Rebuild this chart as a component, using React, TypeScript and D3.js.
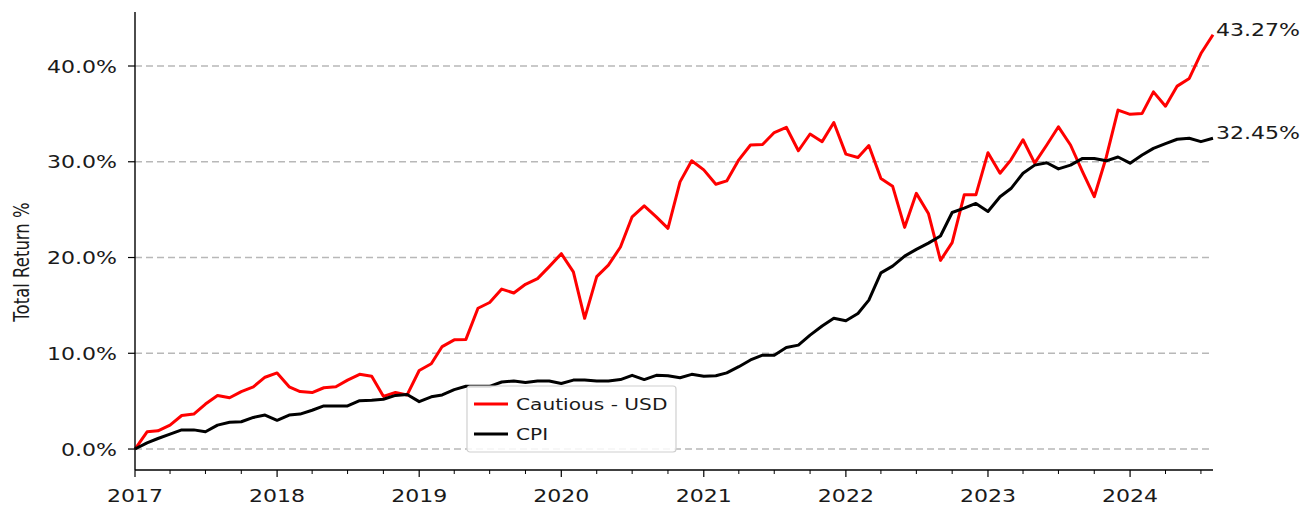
import * as d3 from "d3";
import { useEffect, useRef } from "react";

// monthly points, Jan 2017 .. Aug 2024
const dates = d3.timeMonth.range(new Date(2017, 0, 1), new Date(2024, 7, 2));

const cautious = [
  0, 1.8, 1.9, 2.5, 3.5, 3.65, 4.7, 5.6, 5.35, 6.0, 6.5, 7.5,
  7.95, 6.5, 6.0, 5.9, 6.4, 6.5, 7.2, 7.8, 7.6, 5.5, 5.9, 5.65,
  8.2, 8.9, 10.7, 11.4, 11.45, 14.7, 15.3, 16.7, 16.3, 17.2, 17.8, 19.05,
  20.4, 18.5, 13.65, 18.0, 19.2, 21.1, 24.25, 25.4, 24.25, 23.05, 27.9, 30.1,
  29.15, 27.65, 28.0, 30.2, 31.75, 31.8, 33.05, 33.6, 31.15, 32.9, 32.1, 34.1,
  30.8, 30.45, 31.7, 28.25, 27.45, 23.15, 26.7, 24.6, 19.7, 21.55, 26.55, 26.55,
  30.95, 28.8, 30.2, 32.3, 29.85, 31.75, 33.65, 31.75, 28.95, 26.35, 30.5, 35.4,
  34.95, 35.05, 37.3, 35.8, 37.9, 38.7, 41.3, 43.27,
];

const cpi = [
  0, 0.65, 1.1, 1.55, 2.0, 2.0, 1.8, 2.5, 2.8, 2.85, 3.3, 3.55,
  3.0, 3.55, 3.65, 4.05, 4.5, 4.5, 4.5, 5.05, 5.1, 5.2, 5.6, 5.7,
  4.95, 5.45, 5.65, 6.2, 6.55, 6.55, 6.55, 7.0, 7.1, 6.95, 7.1, 7.1,
  6.85, 7.2, 7.2, 7.1, 7.1, 7.25, 7.7, 7.25, 7.7, 7.65, 7.45, 7.8,
  7.6, 7.65, 7.95, 8.6, 9.3, 9.8, 9.8, 10.6, 10.85, 11.9, 12.85, 13.65,
  13.4, 14.15, 15.55, 18.4, 19.1, 20.15, 20.85, 21.5, 22.25, 24.7, 25.15, 25.65,
  24.8, 26.35, 27.2, 28.8, 29.65, 29.9, 29.25, 29.65, 30.35, 30.35, 30.1, 30.5,
  29.85, 30.7, 31.4, 31.9, 32.35, 32.45, 32.1, 32.45,
];

const yTicks = [0, 10, 20, 30, 40];

const series = [
  { name: "Cautious - USD", values: cautious, color: "#ff0000" },
  { name: "CPI", values: cpi, color: "#000000" },
];

const SX = 1.26; // the picture is stretched sideways
const FONT = "'DejaVu Sans', sans-serif";
const INK = "#1a1a1a";

export default function App() {
  const ref = useRef<SVGSVGElement>(null);

  useEffect(() => {
    const svg = d3.select(ref.current);
    svg.selectAll("*").remove();

    const width = 1310;
    const height = 509;
    const left = 135, right = 1213, top = 12, bottom = 470;

    svg.attr("width", width).attr("height", height)
      .style("font-family", FONT);

    const x = d3.scaleTime()
      .domain([dates[0], dates[dates.length - 1]])
      .range([left, right]);

    const y = d3.scaleLinear()
      .domain([-2.19, 45.64])
      .range([bottom, top]);

    const label = (g: any, px: number, py: number, str: string, anchor: string, size: number) =>
      g.append("text")
        .attr("transform", `translate(${px},${py}) scale(${SX},1)`)
        .attr("text-anchor", anchor)
        .attr("font-size", size)
        .attr("fill", INK)
        .text(str);

    // grid
    svg.append("g")
      .selectAll("line")
      .data(yTicks)
      .join("line")
      .attr("x1", left).attr("x2", right)
      .attr("y1", d => y(d)).attr("y2", d => y(d))
      .attr("stroke", "#b8b8b8")
      .attr("stroke-width", 1.6)
      .attr("stroke-dasharray", "7,4");

    // lines
    const line = d3.line<number>()
      .x((_, i) => x(dates[i]))
      .y(d => y(d));

    svg.append("g")
      .selectAll("path")
      .data(series)
      .join("path")
      .attr("d", d => line(d.values))
      .attr("fill", "none")
      .attr("stroke", d => d.color)
      .attr("stroke-width", 3)
      .attr("stroke-linejoin", "round");

    // spines
    svg.append("line")
      .attr("x1", left).attr("x2", left).attr("y1", top).attr("y2", bottom)
      .attr("stroke", "#000").attr("stroke-width", 1.4);
    svg.append("line")
      .attr("x1", left).attr("x2", right).attr("y1", bottom).attr("y2", bottom)
      .attr("stroke", "#000").attr("stroke-width", 1.4);

    // y ticks
    const yg = svg.append("g");
    yTicks.forEach(t => {
      yg.append("line")
        .attr("x1", left - 7).attr("x2", left)
        .attr("y1", y(t)).attr("y2", y(t))
        .attr("stroke", "#000").attr("stroke-width", 1.2);
      label(yg, left - 18, y(t) + 6.5, `${t.toFixed(1)}%`, "end", 17.5);
    });

    // x ticks
    const xg = svg.append("g");
    const years = d3.timeYear.range(dates[0], x.domain()[1]);
    x.ticks(d3.timeMonth.every(3)!).forEach(d => {
      const major = d.getMonth() === 0;
      xg.append("line")
        .attr("x1", x(d)).attr("x2", x(d))
        .attr("y1", bottom).attr("y2", bottom + (major ? 7 : 4))
        .attr("stroke", "#000").attr("stroke-width", major ? 1.2 : 1);
    });
    years.forEach(d => label(xg, x(d), 502, d3.timeFormat("%Y")(d), "middle", 17.5));

    // y label
    svg.append("text")
      .attr("transform", `translate(29,262) rotate(-90) scale(1,${SX})`)
      .attr("text-anchor", "middle")
      .attr("font-size", 16.5)
      .attr("fill", INK)
      .text("Total Return %");

    // end labels
    const last = dates[dates.length - 1];
    series.forEach(s => {
      const v = s.values[s.values.length - 1];
      label(svg, x(last) + 3, y(v) + 1, `${v.toFixed(2)}%`, "start", 17.5);
    });

    // legend
    const lg = svg.append("g").attr("transform", "translate(467,386)");
    lg.append("rect")
      .attr("width", 209).attr("height", 66).attr("rx", 3)
      .attr("fill", "#fff").attr("fill-opacity", 0.85)
      .attr("stroke", "#d0d0d0").attr("stroke-width", 1.2);
    series.forEach((s, i) => {
      const ly = 18 + i * 30;
      lg.append("line")
        .attr("x1", 7).attr("x2", 41).attr("y1", ly).attr("y2", ly)
        .attr("stroke", s.color).attr("stroke-width", 3);
      label(lg, 49, ly + 6, s.name, "start", 16);
    });
  }, []);

  return (
    <svg ref={ref} style={{ position: "absolute", left: 0, top: 0 }}></svg>
  );
}
